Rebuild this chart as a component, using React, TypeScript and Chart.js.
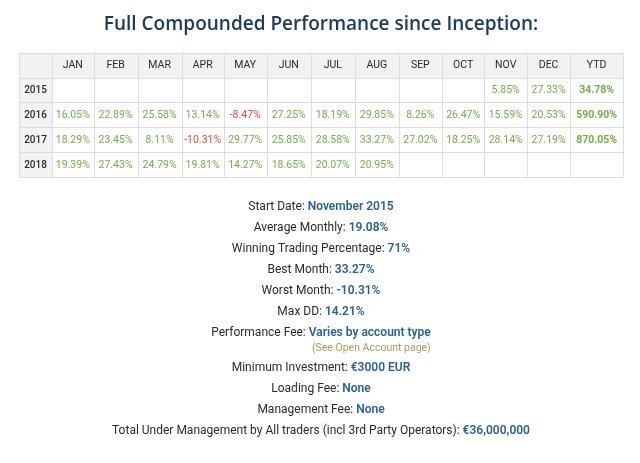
import React, { useEffect, useRef } from "react";
import { Chart, registerables } from "chart.js";

Chart.register(...registerables);

const TITLE = "Full Compounded Performance since Inception:";
const MONTHS = ["JAN", "FEB", "MAR", "APR", "MAY", "JUN", "JUL", "AUG", "SEP", "OCT", "NOV", "DEC"];
const YEARS = ["2015", "2016", "2017", "2018"];
const YTD_LABEL = "YTD";

const R2015: (number | null)[] = [null, null, null, null, null, null, null, null, null, null, 5.85, 27.33];
const R2016: (number | null)[] = [16.05, 22.89, 25.58, 13.14, -8.47, 27.25, 18.19, 29.85, 8.26, 26.47, 15.59, 20.53];
const R2017: (number | null)[] = [18.29, 23.45, 8.11, -10.31, 29.77, 25.85, 28.58, 33.27, 27.02, 18.25, 28.14, 27.19];
const R2018: (number | null)[] = [19.39, 27.43, 24.79, 19.81, 14.27, 18.65, 20.07, 20.95, null, null, null, null];
const YTD: (number | null)[] = [34.78, 590.9, 870.05, null];

const INFO_LABELS = [
  "Start Date:",
  "Average Monthly:",
  "Winning Trading Percentage:",
  "Best Month:",
  "Worst Month:",
  "Max DD:",
  "Performance Fee:",
  "Minimum Investment:",
  "Loading Fee:",
  "Management Fee:",
  "Total Under Management by All traders (incl 3rd Party Operators):",
];
const INFO_VALUES = [
  "November 2015",
  "19.08%",
  "71%",
  "33.27%",
  "-10.31%",
  "14.21%",
  "Varies by account type",
  "€3000 EUR",
  "None",
  "None",
  "€36,000,000",
];
const FEE_NOTE = "(See Open Account page)";

// style constants
const COL_WEIGHTS = [33, 41.5, 44, 44, 42, 43, 44, 44, 44, 43, 42.6, 42.4, 43.3, 52.7];
const GREEN = "#72ad4a";
const RED = "#e8473b";
const HEAD_BG = "#f2f2f4";
const GRID = "#dcdcdf";
const TEXT_DARK = "#2a2a2a";
const BLUE = "#2a6096";
const NAVY = "#1d3a60";
const TAN = "#b39a5c";
const FONT = "Roboto, 'Open Sans', sans-serif";

const ROWS = [R2015, R2016, R2017, R2018];

function colEdges(): number[] {
  const e = [0];
  COL_WEIGHTS.forEach((w) => e.push(e[e.length - 1] + w));
  return e;
}

export default function App() {
  const ref = useRef<HTMLCanvasElement | null>(null);

  useEffect(() => {
    document.body.style.margin = "0";
    const edges = colEdges();
    const total = edges[edges.length - 1];
    const center = (c: number) => (edges[c] + edges[c + 1]) / 2;

    type Cell = { x: number; y: number; text: string; color: string; font: string };
    const cells: Cell[] = [];
    const headFont = `400 10.5px ${FONT}`;
    const valFont = `400 10.5px ${FONT}`;
    const ytdFont = `700 10.5px ${FONT}`;
    MONTHS.forEach((m, i) => cells.push({ x: center(i + 1), y: 0.5, text: m, color: TEXT_DARK, font: headFont }));
    cells.push({ x: center(13), y: 0.5, text: YTD_LABEL, color: TEXT_DARK, font: headFont });
    YEARS.forEach((yr, r) => {
      cells.push({ x: center(0), y: r + 1.5, text: yr, color: TEXT_DARK, font: `500 10px ${FONT}` });
      ROWS[r].forEach((v, i) => {
        if (v === null) return;
        cells.push({ x: center(i + 1), y: r + 1.5, text: v.toFixed(2) + "%", color: v < 0 ? RED : GREEN, font: valFont });
      });
      const y = YTD[r];
      if (y !== null) cells.push({ x: center(13), y: r + 1.5, text: y.toFixed(2) + "%", color: GREEN, font: ytdFont });
    });

    const tablePlugin = {
      id: "tablePlugin",
      beforeDatasetsDraw(chart: any) {
        const ctx = chart.ctx as CanvasRenderingContext2D;
        const xs = chart.scales.x;
        const ys = chart.scales.y;
        const nRows = YEARS.length + 1;
        const px = (v: number) => Math.round(xs.getPixelForValue(v)) + 0.5;
        const py = (v: number) => Math.round(ys.getPixelForValue(v)) + 0.5;
        ctx.save();
        ctx.fillStyle = HEAD_BG;
        ctx.fillRect(px(0), py(0), px(total) - px(0), py(1) - py(0));
        ctx.fillRect(px(0), py(0), px(edges[1]) - px(0), py(nRows) - py(0));
        ctx.strokeStyle = GRID;
        ctx.lineWidth = 1;
        ctx.beginPath();
        for (let r = 0; r <= nRows; r++) {
          ctx.moveTo(px(0), py(r));
          ctx.lineTo(px(total), py(r));
        }
        edges.forEach((e) => {
          ctx.moveTo(px(e), py(0));
          ctx.lineTo(px(e), py(nRows));
        });
        ctx.stroke();
        ctx.restore();
      },
      afterDatasetsDraw(chart: any) {
        const ctx = chart.ctx as CanvasRenderingContext2D;
        const meta = chart.getDatasetMeta(0);
        ctx.save();
        ctx.textAlign = "center";
        ctx.textBaseline = "middle";
        meta.data.forEach((el: any, i: number) => {
          const c = cells[i];
          ctx.font = c.font;
          ctx.fillStyle = c.color;
          ctx.fillText(c.text, el.x, el.y + 0.5);
        });

        // info block
        const cx = chart.width / 2 + 1;
        const labFont = `400 12px ${FONT}`;
        const valF = `600 12px ${FONT}`;
        let noteRight = 0;
        INFO_LABELS.forEach((lab, i) => {
          const y = 206.5 + i * 21 + (i >= 7 ? 14 : 0);
          const l = lab + " ";
          ctx.font = labFont;
          const wl = ctx.measureText(l).width;
          ctx.font = valF;
          const wv = ctx.measureText(INFO_VALUES[i]).width;
          const x0 = cx - (wl + wv) / 2;
          ctx.textAlign = "left";
          ctx.font = labFont;
          ctx.fillStyle = TEXT_DARK;
          ctx.fillText(l, x0, y);
          ctx.font = valF;
          ctx.fillStyle = BLUE;
          ctx.fillText(INFO_VALUES[i], x0 + wl, y);
          if (i === 6) noteRight = x0 + wl + wv;
        });
        ctx.font = `400 10.5px ${FONT}`;
        ctx.fillStyle = TAN;
        ctx.textAlign = "right";
        ctx.fillText(FEE_NOTE, noteRight, 348.5);
        ctx.restore();
      },
    };

    const chart = new Chart(ref.current as HTMLCanvasElement, {
      type: "scatter",
      data: {
        datasets: [
          {
            data: cells.map((c) => ({ x: c.x, y: c.y })),
            pointRadius: 0,
            pointHoverRadius: 0,
          },
        ],
      },
      options: {
        animation: false,
        responsive: false,
        events: [],
        layout: { padding: { left: 19, right: 17, top: 0, bottom: 286 } },
        scales: {
          x: { type: "linear", min: 0, max: total, display: false },
          y: { type: "linear", min: 0, max: YEARS.length + 1, reverse: true, display: false },
        },
        plugins: {
          legend: { display: false },
          tooltip: { enabled: false },
          title: {
            display: true,
            text: TITLE,
            color: NAVY,
            font: { family: "'Open Sans', sans-serif", size: 19, weight: "600" as any },
            padding: { top: 13, bottom: 17 },
          },
        },
      },
      plugins: [tablePlugin],
    });
    return () => chart.destroy();
  }, []);

  return (
    <div style={{ position: "absolute", left: 0, top: 0, width: 640, height: 463, background: "#fff" }}>
      <canvas ref={ref} width={640} height={463} style={{ width: 640, height: 463 }} />
    </div>
  );
}
